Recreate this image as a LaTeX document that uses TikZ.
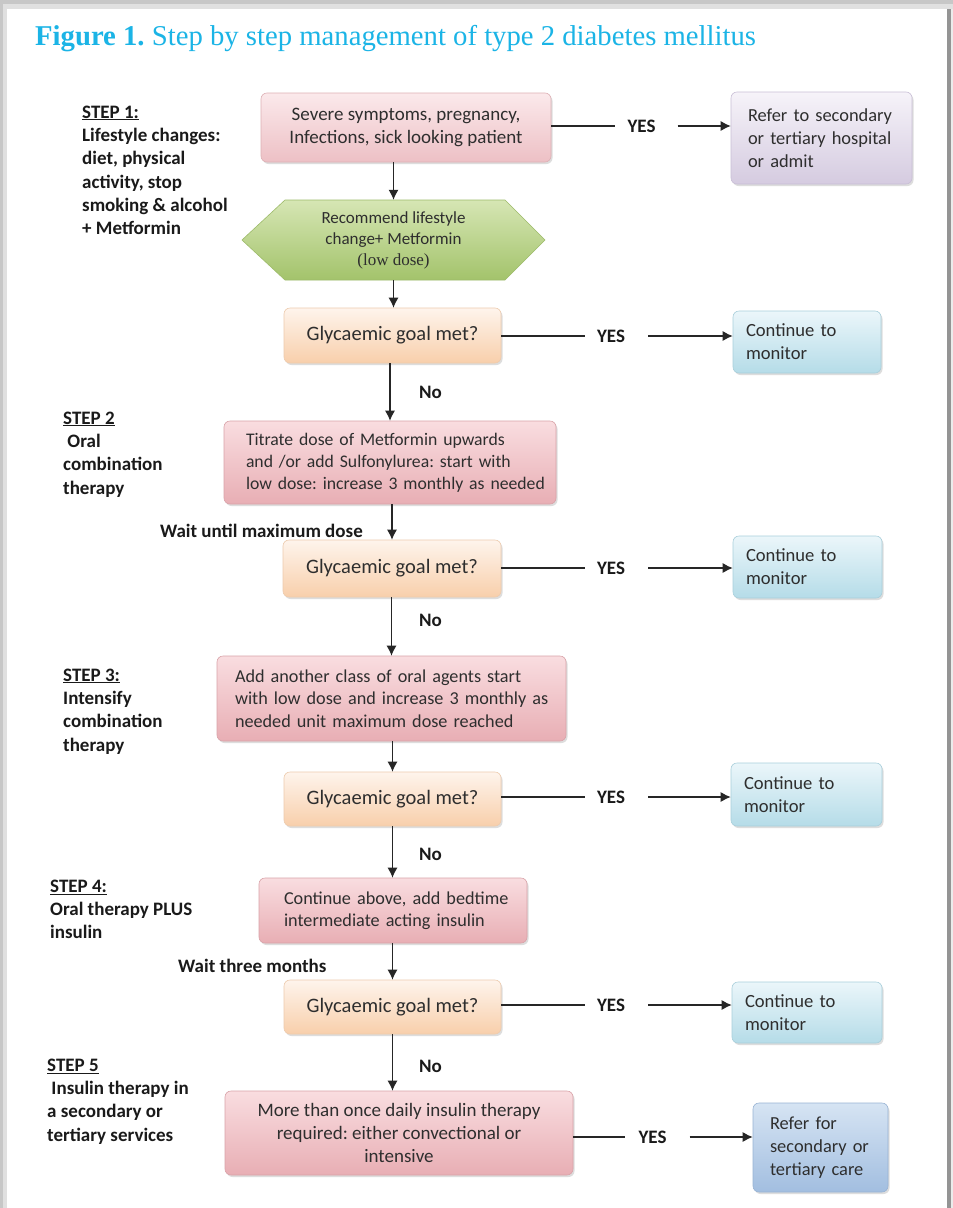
\documentclass[tikz,border=0pt]{standalone}
\usepackage{fontspec}
\setmainfont{Carlito}
\newfontfamily\titlefont{Liberation Serif}
\usetikzlibrary{arrows.meta,shadows,calc}
\frenchspacing
\definecolor{titlecyan}{HTML}{1BB4E6}
\definecolor{txt}{HTML}{2E2E2E}
\definecolor{lbl}{HTML}{1A1A1A}
\definecolor{pinkTop}{HTML}{FBE9EB}
\definecolor{pinkBot}{HTML}{EDC0C5}
\definecolor{pinkEdge}{HTML}{DDB0B5}
\definecolor{rosTop}{HTML}{F9DDE0}
\definecolor{rosBot}{HTML}{E8AEB4}
\definecolor{rosEdge}{HTML}{D9A3A9}
\definecolor{peachTop}{HTML}{FEF4EC}
\definecolor{peachBot}{HTML}{F8CFAB}
\definecolor{peachEdge}{HTML}{EDCBAE}
\definecolor{cyanTop}{HTML}{EBF6FA}
\definecolor{cyanBot}{HTML}{B5DCE8}
\definecolor{cyanEdge}{HTML}{A9CFDB}
\definecolor{lavTop}{HTML}{F6F3F9}
\definecolor{lavBot}{HTML}{D5CBE0}
\definecolor{lavEdge}{HTML}{C9BFD6}
\definecolor{bluTop}{HTML}{D6E4F3}
\definecolor{bluBot}{HTML}{A2BEE0}
\definecolor{bluEdge}{HTML}{98B3D4}
\definecolor{grnTop}{HTML}{D6E6B4}
\definecolor{grnBot}{HTML}{A3C36B}
\definecolor{grnEdge}{HTML}{9DBB6A}
\tikzset{
  every node/.style={inner sep=0pt, text=txt, font=\fontsize{19}{23.3}\selectfont},
  bx/.style={rectangle, rounded corners=6pt, line width=0.6pt,
    drop shadow={shadow xshift=1.5pt, shadow yshift=-2pt, opacity=0.22, fill=black!60}},
  pinkbox/.style={bx, draw=pinkEdge, top color=pinkTop, bottom color=pinkBot},
  rosebox/.style={bx, draw=rosEdge, top color=rosTop, bottom color=rosBot},
  smalltxt/.style={font=\fontsize{18.2}{22.3}\selectfont},
  goalbox/.style={bx, draw=peachEdge, top color=peachTop, bottom color=peachBot,
    font=\fontsize{20.5}{24}\selectfont},
  contbox/.style={bx, draw=cyanEdge, top color=cyanTop, bottom color=cyanBot,
    font=\fontsize{18.6}{23.2}\selectfont},
  lavbox/.style={bx, draw=lavEdge, top color=lavTop, bottom color=lavBot,
    font=\fontsize{18.4}{23.2}\selectfont},
  blubox/.style={bx, draw=bluEdge, top color=bluTop, bottom color=bluBot,
    font=\fontsize{18.4}{23.2}\selectfont},
  steplbl/.style={anchor=north west, align=left, text=lbl, font=\bfseries\fontsize{19}{23.3}\selectfont},
  yeslbl/.style={text=lbl, font=\bfseries\fontsize{19}{23}\selectfont},
  ln/.style={line width=1.1pt, draw=black!85},
  arr/.style={ln, -{Latex[length=10pt,width=10pt]}}
}
\begin{document}
\begin{tikzpicture}[x=1pt,y=-1pt]
\useasboundingbox (0,0) rectangle (953,1208);
% page and shadow
\fill[black!22] (0,0) rectangle (953,1208);
\fill[black!12] (3,4) rectangle (953,1208);
\fill[white] (7,9) rectangle (947,1208);
\fill[black!42] (947,9) rectangle (951,1208);
\fill[black!8] (951,9) rectangle (953,1208);

% title
\node[anchor=base west, text=titlecyan, font=\titlefont\fontsize{28.7}{31}\selectfont] (title) at (35,45)
  {\textbf{Figure 1.} Step by step management of type 2 diabetes mellitus};

% step labels
\node[steplbl] (s1) at (82,105.5) {\underline{STEP 1:}\\Lifestyle changes:\\diet, physical\\activity, stop\\smoking \& alcohol\\+ Metformin};
\node[steplbl] (s2) at (63,411.5) {\underline{STEP 2}\\\ Oral\\combination\\therapy};
\node[steplbl] (s3) at (63,668.5) {\underline{STEP 3:}\\Intensify\\combination\\therapy};
\node[steplbl] (s4) at (50,879.5) {\underline{STEP 4:}\\Oral therapy PLUS\\insulin};
\node[steplbl] (s5) at (47,1058.5) {\underline{STEP 5}\\\ Insulin therapy in\\a secondary or\\tertiary services};

% boxes
\node[pinkbox, minimum width=290pt, minimum height=69pt, align=center] (b1) at (406,127.5)
  {Severe symptoms, pregnancy,\\Infections, sick looking patient};
\node[lavbox, minimum width=181pt, minimum height=92pt, text width=147pt, align=left] (r1) at (821.5,138)
  {\mbox{Refer to secondary}\\\mbox{or tertiary hospital}\\\mbox{or admit}};

\shade[top color=grnTop, bottom color=grnBot, draw=grnEdge, line width=0.6pt]
  (242,240) -- (285,200) -- (505,200) -- (545,240) -- (505,280) -- (285,280) -- cycle;
\node[minimum width=303pt, minimum height=80pt, align=center, font=\fontsize{17}{21}\selectfont] (hex) at (393.5,240)
  {Recommend lifestyle\\change+ Metformin\\{\titlefont (low dose)}};

\node[goalbox, minimum width=217pt, minimum height=55pt] (g1) at (392.5,335.5) {Glycaemic goal met?};
\node[contbox, minimum width=148pt, minimum height=62pt, text width=122pt, align=left] (c1) at (807,342)
  {\mbox{Continue to}\\\mbox{monitor}};

\node[rosebox, font=\fontsize{17.7}{21.8}\selectfont, minimum width=332pt, minimum height=83pt, text width=288pt, align=left] (b2) at (390,462.5)
  {\mbox{Titrate dose of Metformin upwards}\\\mbox{and /or add Sulfonylurea: start with}\\\mbox{low dose: increase 3 monthly as needed}};
\node[goalbox, minimum width=218pt, minimum height=57pt] (g2) at (392,568.5) {Glycaemic goal met?};
\node[contbox, minimum width=149pt, minimum height=62pt, text width=123pt, align=left] (c2) at (807.5,567)
  {\mbox{Continue to}\\\mbox{monitor}};

\node[rosebox, smalltxt, minimum width=349pt, minimum height=85pt, text width=313pt, align=left] (b3) at (391.5,698.5)
  {\mbox{Add another class of oral agents start}\\\mbox{with low dose and increase 3 monthly as}\\\mbox{needed unit maximum dose reached}};
\node[goalbox, minimum width=217pt, minimum height=54pt] (g3) at (392.5,799) {Glycaemic goal met?};
\node[contbox, minimum width=151pt, minimum height=63pt, text width=125pt, align=left] (c3) at (806.5,794.5)
  {\mbox{Continue to}\\\mbox{monitor}};

\node[rosebox, smalltxt, minimum width=268pt, minimum height=65pt, text width=218pt, align=left] (b4) at (393,910.5)
  {\mbox{Continue above, add bedtime}\\\mbox{intermediate acting insulin}};
\node[goalbox, minimum width=217pt, minimum height=54pt] (g4) at (392.5,1007) {Glycaemic goal met?};
\node[contbox, minimum width=150pt, minimum height=61pt, text width=124pt, align=left] (c4) at (807,1012.5)
  {\mbox{Continue to}\\\mbox{monitor}};

\node[rosebox, minimum width=348pt, minimum height=84pt, align=center] (b5) at (399,1133)
  {More than once daily insulin therapy\\required: either convectional or\\intensive};
\node[blubox, minimum width=135pt, minimum height=89pt, text width=101pt, align=left] (r2) at (820.5,1147.5)
  {\mbox{Refer for}\\\mbox{secondary or}\\\mbox{tertiary care}};

% labels on connectors
\node[yeslbl] (y1) at (641.5,126) {YES};
\node[yeslbl] (y2) at (611,336) {YES};
\node[yeslbl] (y3) at (611,568) {YES};
\node[yeslbl] (y4) at (611,797) {YES};
\node[yeslbl] (y5) at (611,1005) {YES};
\node[yeslbl] (y6) at (652.5,1137) {YES};
\node[yeslbl] (n1) at (430.5,392) {No};
\node[yeslbl] (n2) at (430.5,620) {No};
\node[yeslbl] (n3) at (430.5,854) {No};
\node[yeslbl] (n4) at (430.5,1066) {No};
\node[yeslbl, anchor=east] (w1) at (363,531) {Wait until maximum dose};
\node[yeslbl, anchor=west] (w2) at (178,966) {Wait three months};

% vertical connectors
\draw[arr] (b1.south -| hex.north) -- (hex.north);
\draw[arr] (hex.south) -- (hex.south |- g1.north);
\draw[arr] (g1.south -| b2.north) -- (b2.north);
\draw[arr] (b2.south -| g2.north) -- (g2.north);
\draw[arr] (g2.south -| b3.north) -- (b3.north);
\draw[arr] (b3.south -| g3.north) -- (g3.north);
\draw[arr] (g3.south) -- (g3.south |- b4.north);
\draw[arr] (b4.south -| g4.north) -- (g4.north);
\draw[arr] (g4.south) -- (g4.south |- b5.north);

% horizontal connectors
\draw[ln] (b1.east |- y1) -- ([xshift=-12pt]y1.west);
\draw[arr] ([xshift=22pt]y1.east) -- (y1 -| r1.west);
\draw[ln] (g1.east |- y2) -- ([xshift=-12pt]y2.west);
\draw[arr] ([xshift=23pt]y2.east) -- (y2 -| c1.west);
\draw[ln] (g2.east |- y3) -- ([xshift=-12pt]y3.west);
\draw[arr] ([xshift=23pt]y3.east) -- (y3 -| c2.west);
\draw[ln] (g3.east |- y4) -- ([xshift=-12pt]y4.west);
\draw[arr] ([xshift=23pt]y4.east) -- (y4 -| c3.west);
\draw[ln] (g4.east |- y5) -- ([xshift=-12pt]y5.west);
\draw[arr] ([xshift=23pt]y5.east) -- (y5 -| c4.west);
\draw[ln] (b5.east |- y6) -- ([xshift=-13pt]y6.west);
\draw[arr] ([xshift=23pt]y6.east) -- (y6 -| r2.west);
\end{tikzpicture}
\end{document}
